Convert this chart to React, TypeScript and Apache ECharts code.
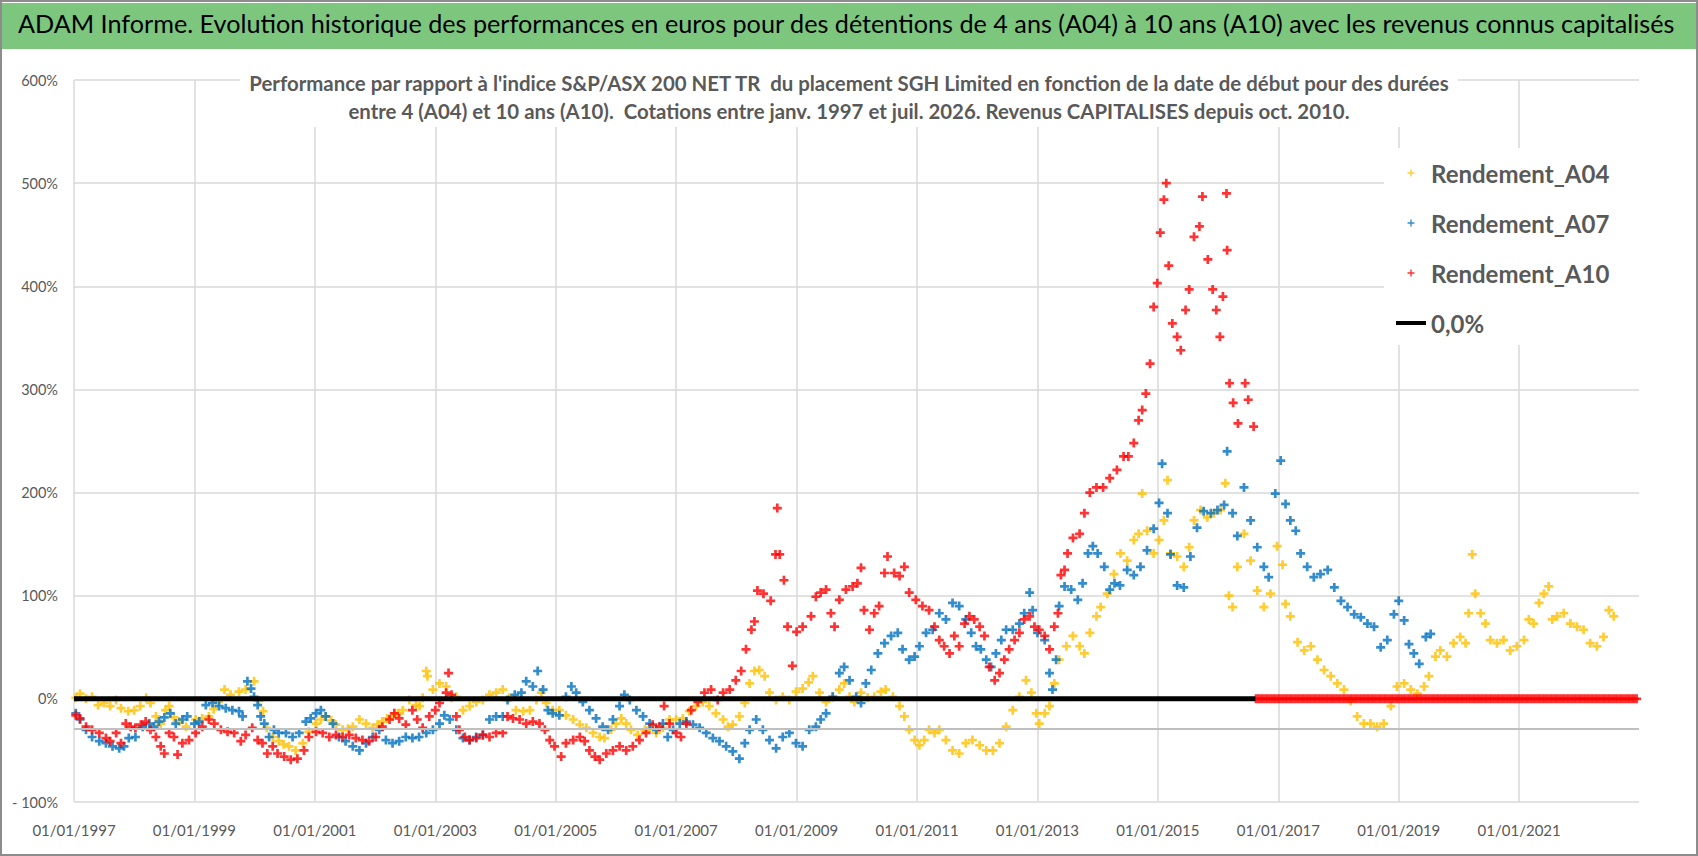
import * as echarts from "echarts";
import { useEffect, useRef } from "react";

// dates are decimal years, values are % vs index
const A04: [number, number][] = [
  [1997.03, 1], [1997.1, 5], [1997.2, 0], [1997.3, 2], [1997.4, -6], [1997.5, -4], [1997.6, -7], [1997.7, -1], [1997.78, -9], [1997.9, -12],
  [1998.0, -11], [1998.1, -7], [1998.2, 1], [1998.27, -4], [1998.36, -17], [1998.44, -24], [1998.52, -11], [1998.58, -7], [1998.66, -18], [1998.75, -22], [1998.86, -27],
  [1999.02, -20], [1999.13, -19], [1999.24, -17], [1999.32, -10], [1999.4, -3], [1999.5, 9], [1999.6, 4], [1999.74, 7], [1999.85, 9], [1999.99, 17],
  [2000.07, -2], [2000.14, -12], [2000.2, -28], [2000.3, -37], [2000.4, -41], [2000.48, -44], [2000.57, -46], [2000.68, -50], [2000.8, -43], [2000.9, -32],
  [2001.02, -24], [2001.1, -20], [2001.18, -17], [2001.27, -21], [2001.35, -25], [2001.46, -30], [2001.55, -29], [2001.63, -27], [2001.74, -20], [2001.85, -24], [2001.96, -28],
  [2002.04, -25], [2002.12, -22], [2002.2, -19], [2002.29, -17], [2002.38, -14], [2002.46, -11], [2002.57, -1], [2002.68, -6], [2002.74, -7], [2002.79, 1], [2002.85, 27], [2002.87, 22], [2002.96, 9],
  [2003.07, 15], [2003.18, 12], [2003.27, 1], [2003.35, 2], [2003.46, -11], [2003.57, -7], [2003.68, -3], [2003.79, -1], [2003.9, 4],
  [2004.01, 6], [2004.12, 9], [2004.23, 1], [2004.34, -11], [2004.46, -12], [2004.57, -11], [2004.68, -1], [2004.76, 6], [2004.84, -4], [2004.95, -11],
  [2005.06, -11], [2005.17, -16], [2005.29, -20], [2005.4, -25], [2005.51, -28], [2005.62, -33], [2005.73, -37], [2005.81, -38], [2005.92, -30],
  [2006.0, -24], [2006.09, -19], [2006.17, -24], [2006.25, -30], [2006.36, -35], [2006.48, -30], [2006.56, -28], [2006.67, -33], [2006.78, -28], [2006.89, -20],
  [2007.0, -20], [2007.11, -19], [2007.22, -12], [2007.33, -7], [2007.44, -3], [2007.55, -7], [2007.66, -14], [2007.78, -20], [2007.86, -27], [2007.94, -25],
  [2008.05, -17], [2008.14, -4], [2008.22, 15], [2008.3, 27], [2008.38, 28], [2008.47, 22], [2008.55, 6], [2008.66, -1], [2008.77, 2], [2008.88, -1], [2008.99, 7],
  [2009.1, 10], [2009.2, 16], [2009.27, 22], [2009.38, 6], [2009.49, -3], [2009.6, 2], [2009.71, 9], [2009.79, 15], [2009.88, 2], [2009.96, -3],
  [2010.07, 6], [2010.18, 1], [2010.29, 2], [2010.4, 7], [2010.48, 9], [2010.6, 2], [2010.71, -7], [2010.79, -17], [2010.87, -30], [2010.96, -40],
  [2011.04, -45], [2011.12, -40], [2011.2, -30], [2011.29, -33], [2011.37, -30], [2011.48, -40], [2011.59, -50], [2011.7, -53], [2011.81, -43], [2011.92, -40],
  [2012.04, -45], [2012.15, -50], [2012.26, -50], [2012.37, -43], [2012.48, -27], [2012.59, -11], [2012.7, 2], [2012.81, 18], [2012.9, 6], [2012.98, -14],
  [2013.03, -24], [2013.12, -14], [2013.2, -7], [2013.28, 15], [2013.36, 38], [2013.48, 51], [2013.59, 61], [2013.7, 51], [2013.78, 44], [2013.87, 64], [2013.98, 80],
  [2014.05, 89], [2014.16, 102], [2014.27, 121], [2014.38, 141], [2014.49, 134], [2014.6, 154], [2014.68, 160], [2014.74, 199], [2014.82, 163], [2014.93, 141],
  [2015.02, 154], [2015.1, 173], [2015.16, 212], [2015.21, 141], [2015.32, 138], [2015.43, 128], [2015.52, 147], [2015.6, 173], [2015.71, 183], [2015.82, 176], [2015.93, 180],
  [2016.04, 183], [2016.12, 209], [2016.18, 100], [2016.24, 89], [2016.32, 128], [2016.43, 160], [2016.54, 134], [2016.65, 105], [2016.76, 89], [2016.87, 102], [2016.98, 148],
  [2017.07, 130], [2017.12, 92], [2017.2, 80], [2017.32, 55], [2017.43, 47], [2017.54, 51], [2017.65, 38], [2017.76, 28], [2017.87, 22], [2017.98, 15],
  [2018.09, 9], [2018.2, -2], [2018.31, -17], [2018.42, -24], [2018.53, -24], [2018.64, -27], [2018.75, -24], [2018.87, -7], [2018.97, 12],
  [2019.09, 15], [2019.2, 9], [2019.31, 5], [2019.42, 12], [2019.5, 22], [2019.61, 41], [2019.69, 47], [2019.8, 41], [2019.91, 54],
  [2020.02, 60], [2020.11, 54], [2020.16, 83], [2020.22, 140], [2020.27, 102], [2020.36, 83], [2020.44, 73], [2020.52, 57], [2020.63, 54], [2020.74, 57], [2020.85, 47], [2020.96, 51],
  [2021.08, 57], [2021.16, 77], [2021.24, 73], [2021.33, 93], [2021.41, 102], [2021.49, 109], [2021.55, 77], [2021.63, 80], [2021.74, 83], [2021.85, 73], [2021.96, 70],
  [2022.07, 67], [2022.18, 54], [2022.29, 51], [2022.4, 60], [2022.49, 86], [2022.57, 80],
];

const A07: [number, number][] = [
  [1997.03, -14], [1997.1, -20], [1997.2, -30], [1997.3, -37], [1997.42, -41], [1997.53, -43], [1997.64, -46], [1997.75, -48], [1997.83, -46], [1997.91, -38],
  [1998.02, -37], [1998.14, -27], [1998.25, -24], [1998.33, -27], [1998.41, -22], [1998.5, -18], [1998.6, -14], [1998.69, -24], [1998.8, -20], [1998.88, -17],
  [1999.0, -24], [1999.08, -22], [1999.19, -6], [1999.3, -4], [1999.41, -7], [1999.52, -9], [1999.63, -11], [1999.74, -12], [1999.8, -17], [1999.88, 17], [1999.94, 10],
  [1999.99, 2], [2000.05, -6], [2000.1, -17], [2000.16, -24], [2000.24, -37], [2000.32, -30], [2000.4, -33], [2000.52, -33], [2000.63, -37], [2000.74, -33], [2000.85, -22], [2000.93, -19],
  [2001.02, -14], [2001.1, -11], [2001.18, -17], [2001.3, -24], [2001.4, -37], [2001.51, -41], [2001.63, -46], [2001.74, -50], [2001.85, -43], [2001.96, -37],
  [2002.07, -30], [2002.18, -40], [2002.29, -43], [2002.4, -41], [2002.51, -37], [2002.62, -38], [2002.73, -37], [2002.85, -33], [2002.96, -30],
  [2003.07, -24], [2003.15, -16], [2003.24, -20], [2003.35, -30], [2003.46, -38], [2003.57, -40], [2003.68, -37], [2003.79, -35], [2003.9, -20],
  [2004.01, -17], [2004.12, -17], [2004.2, -1], [2004.32, 4], [2004.43, 6], [2004.51, 17], [2004.62, 12], [2004.7, 27], [2004.79, 9], [2004.87, -11], [2004.95, -14],
  [2005.06, -16], [2005.17, 2], [2005.26, 12], [2005.34, 6], [2005.45, -3], [2005.56, -11], [2005.67, -19], [2005.78, -27], [2005.87, -30], [2005.95, -20],
  [2006.06, -7], [2006.14, 4], [2006.23, -1], [2006.34, -11], [2006.45, -17], [2006.56, -24], [2006.67, -30], [2006.78, -24], [2006.86, -37], [2006.95, -30],
  [2007.06, -24], [2007.17, -22], [2007.28, -25], [2007.39, -28], [2007.5, -33], [2007.61, -38], [2007.72, -41], [2007.83, -46], [2007.94, -51],
  [2008.05, -58], [2008.14, -43], [2008.22, -30], [2008.33, -20], [2008.44, -30], [2008.55, -40], [2008.66, -48], [2008.77, -37], [2008.88, -33], [2008.99, -43],
  [2009.1, -46], [2009.21, -30], [2009.32, -27], [2009.4, -20], [2009.49, -14], [2009.6, 2], [2009.71, 25], [2009.79, 31], [2009.88, 18], [2009.99, 2],
  [2010.07, -4], [2010.15, 15], [2010.24, 28], [2010.35, 44], [2010.46, 54], [2010.57, 61], [2010.68, 64], [2010.76, 48], [2010.87, 38], [2010.96, 41],
  [2011.04, 51], [2011.15, 64], [2011.26, 67], [2011.37, 83], [2011.48, 77], [2011.59, 93], [2011.7, 90], [2011.81, 77], [2011.9, 64], [2011.98, 51],
  [2012.06, 48], [2012.15, 38], [2012.23, 31], [2012.31, 44], [2012.4, 57], [2012.48, 67], [2012.59, 67], [2012.7, 73], [2012.78, 83], [2012.87, 103], [2012.92, 86],
  [2013.0, 64], [2013.12, 57], [2013.2, 25], [2013.25, 9], [2013.31, 38], [2013.36, 90], [2013.45, 109], [2013.56, 106], [2013.67, 96], [2013.75, 112], [2013.84, 141], [2013.92, 148],
  [2014.0, 141], [2014.11, 128], [2014.2, 106], [2014.28, 112], [2014.37, 110], [2014.49, 125], [2014.6, 120], [2014.71, 128], [2014.82, 144], [2014.93, 165],
  [2015.02, 190], [2015.07, 228], [2015.16, 180], [2015.21, 140], [2015.32, 110], [2015.43, 108], [2015.54, 138], [2015.65, 166], [2015.76, 182], [2015.88, 180], [2015.99, 183],
  [2016.1, 188], [2016.15, 240], [2016.24, 180], [2016.32, 158], [2016.43, 205], [2016.54, 173], [2016.65, 147], [2016.76, 128], [2016.84, 118], [2016.95, 199],
  [2017.04, 231], [2017.12, 189], [2017.2, 173], [2017.29, 163], [2017.37, 141], [2017.48, 128], [2017.59, 118], [2017.7, 121], [2017.82, 125], [2017.93, 108],
  [2018.04, 95], [2018.15, 89], [2018.26, 82], [2018.37, 79], [2018.48, 73], [2018.59, 70], [2018.7, 50], [2018.81, 57], [2018.92, 82],
  [2019.0, 95], [2019.09, 76], [2019.17, 53], [2019.25, 44], [2019.34, 34], [2019.45, 60], [2019.53, 63],
];

const A10: [number, number][] = [
  [1997.03, -16], [1997.1, -19], [1997.2, -27], [1997.3, -30], [1997.42, -33], [1997.53, -38], [1997.6, -41], [1997.7, -33], [1997.78, -43], [1997.86, -24], [1997.94, -27],
  [1998.02, -28], [1998.11, -25], [1998.19, -22], [1998.27, -30], [1998.36, -37], [1998.44, -46], [1998.5, -53], [1998.58, -33], [1998.66, -37], [1998.72, -54], [1998.8, -43], [1998.91, -40],
  [1999.02, -33], [1999.13, -27], [1999.24, -20], [1999.33, -24], [1999.44, -30], [1999.55, -32], [1999.66, -33], [1999.77, -41], [1999.85, -35], [1999.96, -28],
  [2000.05, -40], [2000.13, -43], [2000.21, -53], [2000.3, -46], [2000.38, -53], [2000.49, -56], [2000.6, -59], [2000.71, -58], [2000.82, -50], [2000.9, -37],
  [2001.02, -32], [2001.13, -33], [2001.24, -37], [2001.35, -35], [2001.46, -37], [2001.57, -35], [2001.68, -38], [2001.79, -40], [2001.9, -41],
  [2002.01, -37], [2002.12, -27], [2002.24, -20], [2002.32, -14], [2002.4, -19], [2002.51, -25], [2002.62, -11], [2002.7, -20], [2002.79, -28], [2002.9, -17],
  [2003.0, -11], [2003.07, -4], [2003.18, 6], [2003.22, 25], [2003.27, 4], [2003.35, -17], [2003.4, -30], [2003.49, -37], [2003.57, -40], [2003.68, -38], [2003.79, -35], [2003.9, -37],
  [2004.01, -33], [2004.12, -33], [2004.2, -17], [2004.29, -19], [2004.4, -20], [2004.51, -24], [2004.62, -22], [2004.73, -24], [2004.82, -30], [2004.9, -40], [2004.98, -46],
  [2005.09, -56], [2005.17, -43], [2005.29, -40], [2005.4, -37], [2005.48, -41], [2005.56, -50], [2005.65, -56], [2005.73, -59], [2005.84, -53], [2005.95, -50],
  [2006.06, -46], [2006.17, -50], [2006.28, -46], [2006.39, -40], [2006.5, -33], [2006.61, -25], [2006.72, -27], [2006.8, -7], [2006.89, -24],
  [2007.0, -33], [2007.08, -37], [2007.17, -24], [2007.25, -11], [2007.36, -3], [2007.47, 6], [2007.58, 9], [2007.69, -1], [2007.78, 6], [2007.89, 9], [2007.99, 18],
  [2008.08, 27], [2008.16, 48], [2008.25, 67], [2008.3, 75], [2008.35, 105], [2008.45, 102], [2008.57, 95], [2008.65, 140], [2008.68, 185], [2008.72, 140], [2008.79, 115], [2008.85, 70], [2008.93, 32],
  [2009.0, 65], [2009.1, 70], [2009.24, 80], [2009.32, 99], [2009.4, 103], [2009.49, 106], [2009.57, 83], [2009.63, 70], [2009.71, 96], [2009.82, 106], [2009.93, 109],
  [2010.01, 112], [2010.07, 127], [2010.12, 86], [2010.21, 67], [2010.29, 83], [2010.37, 90], [2010.46, 122], [2010.51, 138], [2010.62, 122], [2010.71, 119], [2010.79, 128], [2010.87, 103], [2010.98, 96],
  [2011.09, 90], [2011.2, 86], [2011.29, 70], [2011.37, 57], [2011.45, 51], [2011.54, 44], [2011.62, 61], [2011.7, 51], [2011.79, 73], [2011.87, 80], [2011.95, 77],
  [2012.04, 70], [2012.12, 61], [2012.2, 31], [2012.29, 18], [2012.37, 25], [2012.45, 38], [2012.53, 48], [2012.62, 57], [2012.7, 64], [2012.78, 77], [2012.87, 80], [2012.95, 70],
  [2013.03, 67], [2013.12, 61], [2013.2, 48], [2013.28, 70], [2013.34, 83], [2013.39, 120], [2013.45, 125], [2013.5, 141], [2013.59, 156], [2013.7, 160], [2013.78, 180], [2013.87, 200], [2013.98, 205],
  [2014.09, 205], [2014.2, 214], [2014.32, 222], [2014.43, 235], [2014.51, 235], [2014.6, 248], [2014.68, 270], [2014.74, 280], [2014.8, 296], [2014.87, 325], [2014.93, 380], [2014.99, 403],
  [2015.04, 452], [2015.1, 484], [2015.14, 500], [2015.18, 420], [2015.24, 364], [2015.32, 351], [2015.38, 338], [2015.46, 377], [2015.52, 397], [2015.6, 448], [2015.69, 458], [2015.74, 487],
  [2015.83, 426], [2015.91, 397], [2015.97, 377], [2016.03, 351], [2016.08, 390], [2016.14, 490], [2016.15, 435], [2016.19, 306], [2016.25, 287], [2016.33, 267], [2016.45, 306], [2016.5, 290], [2016.59, 264],
];

// A10 start dates without a full 10-year window sit at 0 (solid band in the picture)
const A10_ZERO_DATES: number[] = [
  2016.63, 2016.67, 2016.71, 2016.75, 2016.79, 2016.83, 2016.87, 2016.91, 2016.95, 2016.99,
  2017.03, 2017.07, 2017.11, 2017.15, 2017.19, 2017.23, 2017.27, 2017.31, 2017.35, 2017.39, 2017.43, 2017.47, 2017.51,
  2017.55, 2017.59, 2017.63, 2017.67, 2017.71, 2017.75, 2017.79, 2017.83, 2017.87, 2017.91, 2017.95, 2017.99,
  2018.03, 2018.07, 2018.11, 2018.15, 2018.19, 2018.23, 2018.27, 2018.31, 2018.35, 2018.39, 2018.43, 2018.47, 2018.51,
  2018.55, 2018.59, 2018.63, 2018.67, 2018.71, 2018.75, 2018.79, 2018.83, 2018.87, 2018.91, 2018.95, 2018.99,
  2019.03, 2019.07, 2019.11, 2019.15, 2019.19, 2019.23, 2019.27, 2019.31, 2019.35, 2019.39, 2019.43, 2019.47, 2019.51,
  2019.55, 2019.59, 2019.63, 2019.67, 2019.71, 2019.75, 2019.79, 2019.83, 2019.87, 2019.91, 2019.95, 2019.99,
  2020.03, 2020.07, 2020.11, 2020.15, 2020.19, 2020.23, 2020.27, 2020.31, 2020.35, 2020.39, 2020.43, 2020.47, 2020.51,
  2020.55, 2020.59, 2020.63, 2020.67, 2020.71, 2020.75, 2020.79, 2020.83, 2020.87, 2020.91, 2020.95, 2020.99,
  2021.03, 2021.07, 2021.11, 2021.15, 2021.19, 2021.23, 2021.27, 2021.31, 2021.35, 2021.39, 2021.43, 2021.47, 2021.51,
  2021.55, 2021.59, 2021.63, 2021.67, 2021.71, 2021.75, 2021.79, 2021.83, 2021.87, 2021.91, 2021.95, 2021.99,
  2022.03, 2022.07, 2022.11, 2022.15, 2022.19, 2022.23, 2022.27, 2022.31, 2022.35, 2022.39, 2022.43, 2022.47, 2022.51,
  2022.55, 2022.59, 2022.63, 2022.67, 2022.71, 2022.75, 2022.79, 2022.83, 2022.87, 2022.91, 2022.95,
];
const A10_ZERO_VALUE = 0;

const ZERO_LINE: [number, number][] = [[1997, 0], [2016.62, 0]];
const AXIS_LINE_VALUE = -29;

const SERIES_NAMES = ["Rendement_A04", "Rendement_A07", "Rendement_A10", "0,0%"];
const COLORS = ["#FFC000", "#0070C0", "#FF0000", "#000000"];

const TITLE =
  "ADAM Informe. Evolution historique des performances en euros pour des détentions de 4 ans (A04) à 10 ans (A10) avec les revenus connus capitalisés";
const SUBTITLE =
  "Performance par rapport à l'indice S&P/ASX 200 NET TR  du placement SGH Limited en fonction de la date de début pour des durées\nentre 4 (A04) et 10 ans (A10).  Cotations entre janv. 1997 et juil. 2026. Revenus CAPITALISES depuis oct. 2010.";

const PLUS = "path://M3.5,0H6.5V10H3.5Z M0,3.5H10V6.5H0Z";
const LEGEND_PLUS = "path://M4,0H6V10H4Z M0,4H10V6H0Z";
const FONT = "Lato, 'Noto Sans', sans-serif";

function App() {
  const chartRef = useRef<HTMLDivElement>(null);

  useEffect(() => {
    const chart = echarts.init(chartRef.current, null, { renderer: "svg" });

    const scatter = (name: string, data: [number, number][], color: string) => ({
      name,
      type: "scatter",
      symbol: PLUS,
      symbolSize: 9,
      itemStyle: { color },
      data,
    });

    const a10All = A10.concat(A10_ZERO_DATES.map((d) => [d, A10_ZERO_VALUE] as [number, number]));

    const option = {
      animation: false,
      backgroundColor: "#ffffff",
      title: [
        {
          text: TITLE,
          left: 18,
          top: 10,
          padding: 0,
          textStyle: { fontFamily: FONT, fontSize: 25.2, fontWeight: "normal", color: "#000000" },
        },
        {
          text: SUBTITLE,
          left: "center",
          top: 67,
          padding: [2, 8],
          backgroundColor: "#ffffff",
          textStyle: { fontFamily: FONT, fontSize: 20.4, fontWeight: "bold", color: "#595959", lineHeight: 28 },
        },
      ],
      graphic: [
        { type: "rect", z: -10, shape: { x: 1, y: 1, width: 1696, height: 854 }, style: { fill: "#ffffff", stroke: "#8c8c8c", lineWidth: 2 } },
        { type: "rect", z: -5, shape: { x: 2, y: 3, width: 1694, height: 46 }, style: { fill: "#7DC67E" } },
      ],
      legend: {
        data: SERIES_NAMES.map((n, i) => ({
          name: n,
          icon: i < 3 ? LEGEND_PLUS : "path://M0,0H30V4H0Z",
        })),
        orient: "vertical",
        left: 1384,
        top: 148,
        padding: [13, 40, 10, 12],
        itemWidth: 30,
        itemHeight: 7,
        itemGap: 26,
        backgroundColor: "#ffffff",
        selectedMode: false,
        textStyle: { fontFamily: FONT, fontSize: 24, fontWeight: "bold", color: "#595959", lineHeight: 24 },
      },
      grid: { left: 74, right: 59, top: 80, bottom: 54, containLabel: false },
      xAxis: {
        type: "value",
        min: 1997,
        max: 2022.99,
        interval: 2,
        axisLine: { show: false },
        axisTick: { show: false },
        axisLabel: {
          margin: 20,
          fontFamily: FONT,
          fontSize: 15,
          color: "#595959",
          showMaxLabel: false,
          formatter: (v: number) => (Math.abs(v - Math.round(v)) < 1e-6 ? "01/01/" + Math.round(v) : ""),
        },
        splitLine: { show: true, showMaxLine: false, lineStyle: { color: "#D9D9D9", width: 1.5 } },
      },
      yAxis: {
        type: "value",
        min: -100,
        max: 600,
        interval: 100,
        axisLine: { show: false },
        axisTick: { show: false },
        axisLabel: {
          margin: 16,
          fontFamily: FONT,
          fontSize: 14.5,
          color: "#595959",
          formatter: (v: number) => (v < 0 ? "- " + -v + "%" : v + "%"),
        },
        splitLine: { lineStyle: { color: "#D9D9D9", width: 1.5 } },
      },
      series: [
        scatter(SERIES_NAMES[0], A04, COLORS[0]),
        scatter(SERIES_NAMES[1], A07, COLORS[1]),
        scatter(SERIES_NAMES[2], a10All, COLORS[2]),
        {
          name: SERIES_NAMES[3],
          type: "line",
          z: 5,
          symbol: "none",
          itemStyle: { color: COLORS[3] },
          lineStyle: { color: COLORS[3], width: 5 },
          data: ZERO_LINE,
          markLine: {
            silent: true,
            symbol: "none",
            label: { show: false },
            lineStyle: { color: "#BFBFBF", width: 2, type: "solid" },
            data: [{ yAxis: AXIS_LINE_VALUE }],
          },
        },
      ],
    };

    chart.setOption(option);

    return () => {
      chart.dispose();
    };
  }, []);

  return <div ref={chartRef} style={{ position: "absolute", left: 0, top: 0, width: 1698, height: 856 }}></div>;
}

export default App;
